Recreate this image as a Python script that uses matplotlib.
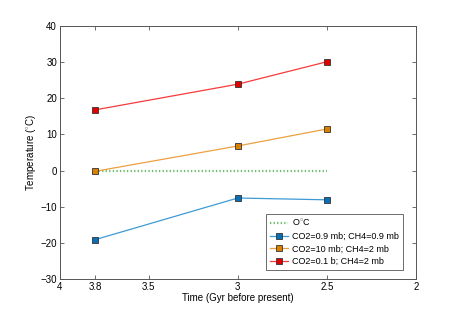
import numpy as np
import matplotlib
matplotlib.use('Agg')
import matplotlib.pyplot as plt

plt.rcParams['font.family'] = ['Liberation Sans', 'DejaVu Sans']
plt.rcParams['mathtext.fontset'] = 'custom'
plt.rcParams['mathtext.rm'] = 'Liberation Sans'

time_gyr = [3.8, 3.0, 2.5]
temp_low = [-19.1, -7.6, -8.1]      # CO2=0.9 mb; CH4=0.9 mb
temp_mid = [-0.2, 6.8, 11.5]        # CO2=10 mb; CH4=2 mb
temp_high = [16.8, 23.9, 30.1]      # CO2=0.1 b; CH4=2 mb
freezing = [0, 0, 0]

labels = ['O$^{\\circ}$C', 'CO2=0.9 mb; CH4=0.9 mb',
          'CO2=10 mb; CH4=2 mb', 'CO2=0.1 b; CH4=2 mb']

fig = plt.figure(figsize=(4.6, 3.17), dpi=100)
ax = fig.add_axes([0.130, 0.120, 0.774, 0.798])

ax.plot(time_gyr, freezing, color='#6cc06c', lw=1.6, dashes=(0.6, 1.0),
        label=labels[0])
ax.plot(time_gyr, temp_low, '-s', color='#3d9bd6', lw=0.9, ms=4,
        mfc='#0a6eb4', mec='#333333', mew=0.6, label=labels[1])
ax.plot(time_gyr, temp_mid, '-s', color='#eca040', lw=0.9, ms=4,
        mfc='#d98000', mec='#333333', mew=0.6, label=labels[2])
ax.plot(time_gyr, temp_high, '-s', color='#f53b3b', lw=0.9, ms=4,
        mfc='#e00000', mec='#333333', mew=0.6, label=labels[3])

ax.set_xlim(4, 2)
ax.set_ylim(-30, 40)
ax.set_xticks([4, 3.8, 3.5, 3, 2.5, 2])
ax.set_xticklabels(['4', '3.8', '3.5', '3', '2.5', '2'])
ax.set_yticks(np.arange(-30, 41, 10))
ax.tick_params(direction='in', top=True, right=True, labelsize=7,
               length=3, width=0.6, color='#555555', pad=2)
for s in ax.spines.values():
    s.set_color('#555555')
    s.set_linewidth(0.7)

ax.set_xlabel('Time (Gyr before present)', fontsize=7, labelpad=1)
ax.set_ylabel('Temperature ($^{\\circ}$C)', fontsize=7, labelpad=2)

leg = ax.legend(loc='lower right', fontsize=6.5, frameon=True, fancybox=False,
                edgecolor='#555555', framealpha=1, handlelength=2.0,
                borderpad=0.4, labelspacing=0.4, handletextpad=0.5,
                borderaxespad=0, bbox_to_anchor=(0.963, 0.036))
leg.get_frame().set_linewidth(0.6)

plt.savefig('out.png', dpi=100)
plt.close(fig)
